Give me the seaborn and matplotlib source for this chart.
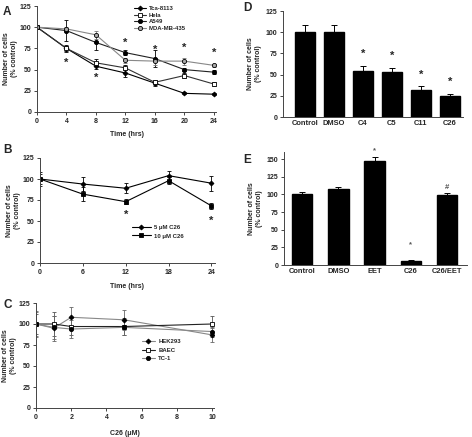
import matplotlib
matplotlib.use("Agg")
import matplotlib.pyplot as plt
import seaborn as sns
import pandas as pd
import numpy as np

# ---- panel A: time course in four cancer lines
time_a = [0, 4, 8, 12, 16, 20, 24]
tca = [100, 75, 54, 46, 34, 22, 21]
tca_err = [0, 3, 3, 5, 3, 1, 1]
hela = [100, 75, 58, 52, 35, 43, 33]
hela_err = [0, 4, 4, 3, 3, 3, 2]
a549 = [100, 96, 82, 70, 63, 50, 47]
a549_err = [0, 12, 9, 3, 10, 2, 2]
mda = [100, 98, 91, 61, 60, 60, 55]
mda_err = [0, 2, 5, 3, 4, 4, 2]
stars_a_x = [4, 8, 12, 16, 20, 24]
stars_a_y = [58, 40, 81, 73, 76, 70]

# ---- panel B: two doses over time
time_b = [0, 6, 12, 18, 24]
c26_5 = [100, 94, 89, 104, 95]
c26_5_err = [8, 8, 6, 5, 9]
c26_10 = [100, 82, 73, 98, 68]
c26_10_err = [6, 8, 3, 4, 4]
stars_b_x = [12, 24]
stars_b_y = [57, 50]

# ---- panel C: normal cells vs dose
dose_c = [0, 1, 2, 5, 10]
hek = [100, 95, 108, 105, 87]
hek_err = [15, 15, 12, 12, 8]
baec = [100, 100, 97, 97, 100]
baec_err = [12, 14, 10, 10, 9]
tc1 = [100, 96, 94, 96, 91]
tc1_err = [14, 14, 11, 9, 6]

# ---- panel D: compounds
cats_d = ["Control", "DMSO", "C4", "C5", "C11", "C26"]
vals_d = [100, 100, 54, 53, 32, 25]
errs_d = [8, 9, 6, 5, 4, 2]
marks_d = ["", "", "*", "*", "*", "*"]

# ---- panel E: EET rescue
cats_e = ["Control", "DMSO", "EET", "C26", "C26/EET"]
vals_e = [100, 108, 147, 6, 99]
errs_e = [4, 2, 6, 1, 3]
marks_e = ["", "", "*", "*", "#"]

sns.set_style("ticks")
plt.rcParams["font.family"] = ["Liberation Sans", "DejaVu Sans"]
plt.rcParams["font.weight"] = "bold"
plt.rcParams["axes.labelweight"] = "bold"
plt.rcParams["axes.linewidth"] = 0.7
plt.rcParams["axes.edgecolor"] = "#444444"
plt.rcParams["xtick.major.size"] = 2
plt.rcParams["ytick.major.size"] = 2
plt.rcParams["xtick.major.width"] = 0.6
plt.rcParams["ytick.major.width"] = 0.6
plt.rcParams["xtick.major.pad"] = 2
plt.rcParams["ytick.major.pad"] = 2

W, H = 472, 437
fig = plt.figure(figsize=(W / 100, H / 100), dpi=100)


def add_ax(x0, x1, y0, y1):
    return fig.add_axes([x0 / W, 1 - y1 / H, (x1 - x0) / W, (y1 - y0) / H])


TICK = 5.0
LAB = 5.0
ylab = "Number of cells\n(% control)"


def style(ax):
    sns.despine(ax=ax)
    ax.tick_params(labelsize=TICK)
    for lbl in ax.get_xticklabels() + ax.get_yticklabels():
        lbl.set_fontweight("bold")


def series(ax, x, y, err, label, marker, lc, mfc, ecol="black", ms=3):
    sns.lineplot(x=x, y=y, ax=ax, color=lc, lw=0.8, marker=marker, markersize=ms,
                 markerfacecolor=mfc, markeredgecolor="black", markeredgewidth=0.6,
                 label=label)
    ax.errorbar(x, y, yerr=err, fmt="none", ecolor=ecol, elinewidth=0.6,
                capsize=1.6, capthick=0.6, zorder=1)


# ---- A
axA = add_ax(37, 216, 6, 112)
series(axA, time_a, tca, tca_err, "Tca-8113", "D", "black", "black", ms=2.5)
series(axA, time_a, hela, hela_err, "Hela", "s", "#333333", "white")
series(axA, time_a, a549, a549_err, "A549", "o", "#222222", "black")
series(axA, time_a, mda, mda_err, "MDA-MB-435", "o", "#888888", "#aaaaaa", ecol="#777777")
for sx, sy in zip(stars_a_x, stars_a_y):
    axA.text(sx, sy, "*", ha="center", va="center", fontsize=8, fontweight="bold")
axA.set_xlim(0, 24.3)
axA.set_ylim(0, 125)
axA.set_xticks(time_a)
axA.set_yticks([0, 25, 50, 75, 100, 125])
axA.set_xlabel("Time (hrs)", fontsize=LAB, labelpad=5)
axA.set_ylabel(ylab, fontsize=LAB, labelpad=1)
axA.legend(loc="upper left", bbox_to_anchor=(0.52, 1.04), frameon=False, fontsize=4.3,
           handlelength=2.0, handletextpad=0.4, labelspacing=0.25, borderpad=0.2)
style(axA)

# ---- B
axB = add_ax(40, 215, 158, 263)
series(axB, time_b, c26_5, c26_5_err, "5 \u03bcM C26", "D", "black", "black", ms=2.5)
series(axB, time_b, c26_10, c26_10_err, "10 \u03bcM C26", "s", "black", "black")
for sx, sy in zip(stars_b_x, stars_b_y):
    axB.text(sx, sy, "*", ha="center", va="center", fontsize=8, fontweight="bold")
axB.set_xlim(0, 24.5)
axB.set_ylim(0, 125)
axB.set_xticks(time_b)
axB.set_yticks([0, 25, 50, 75, 100, 125])
axB.set_xlabel("Time (hrs)", fontsize=LAB, labelpad=5)
axB.set_ylabel(ylab, fontsize=LAB, labelpad=1)
axB.legend(loc="upper left", bbox_to_anchor=(0.5, 0.4), frameon=False, fontsize=4.3,
           handlelength=3.2, handletextpad=0.6, labelspacing=0.5, borderpad=0.2)
style(axB)

# ---- C
axC = add_ax(36, 214, 303, 408)
series(axC, dose_c, hek, hek_err, "HEK293", "D", "#888888", "black", ecol="#666666", ms=2.5)
series(axC, dose_c, baec, baec_err, "BAEC", "s", "#222222", "white", ecol="#555555")
series(axC, dose_c, tc1, tc1_err, "TC-1", "o", "#888888", "black", ecol="#666666")
axC.set_xlim(0, 10.1)
axC.set_ylim(0, 125)
axC.set_xticks([0, 2, 4, 6, 8, 10])
axC.set_yticks([0, 25, 50, 75, 100, 125])
axC.set_xlabel("C26 (\u03bcM)", fontsize=LAB, labelpad=7)
axC.set_ylabel(ylab, fontsize=LAB, labelpad=1)
axC.legend(loc="upper left", bbox_to_anchor=(0.57, 0.7), frameon=False, fontsize=4.3,
           handlelength=2.2, handletextpad=0.6, labelspacing=0.6, borderpad=0.2)
style(axC)

# ---- D
axD = add_ax(283, 463, 11, 117)
dfD = pd.DataFrame({"group": cats_d, "value": vals_d})
sns.barplot(data=dfD, x="group", y="value", color="black", width=0.7, ax=axD,
            saturation=1, edgecolor="black")
xD = np.arange(len(cats_d))
axD.errorbar(xD, vals_d, yerr=[np.zeros(len(errs_d)), errs_d], fmt="none",
             ecolor="black", elinewidth=0.7, capsize=2.5, capthick=0.7)
for x, v, e, m in zip(xD, vals_d, errs_d, marks_d):
    if m:
        axD.text(x, v + e + 14, m, ha="center", va="center", fontsize=8, fontweight="bold")
axD.set_xlim(-0.75, 5.45)
axD.set_ylim(0, 125)
axD.set_yticks([0, 25, 50, 75, 100, 125])
axD.set_xlabel("")
axD.set_ylabel(ylab, fontsize=LAB, labelpad=3)
axD.tick_params(axis="x", length=0)
style(axD)
axD.tick_params(axis="x", labelsize=5.4)

# ---- E
axE = add_ax(284, 467, 152, 265)
dfE = pd.DataFrame({"group": cats_e, "value": vals_e})
sns.barplot(data=dfE, x="group", y="value", color="black", width=0.57, ax=axE,
            saturation=1, edgecolor="black")
xE = np.arange(len(cats_e))
axE.errorbar(xE, vals_e, yerr=[np.zeros(len(errs_e)), errs_e], fmt="none",
             ecolor="black", elinewidth=0.7, capsize=2.5, capthick=0.7)
mark_y_e = [0, 0, 162, 29, 110]
for x, m, my in zip(xE, marks_e, mark_y_e):
    if m:
        axE.text(x, my, m, ha="center", va="center", fontsize=5.5, color="#555555",
                 clip_on=False)
axE.set_xlim(-0.5, 4.55)
axE.set_ylim(0, 160)
axE.set_yticks([0, 25, 50, 75, 100, 125, 150])
axE.set_xlabel("")
axE.set_ylabel(ylab, fontsize=LAB, labelpad=3)
axE.tick_params(axis="x", length=0)
style(axE)
axE.tick_params(axis="x", labelsize=5.4)

# panel letters
for lx, ly, t in [(3, 12, "A"), (3, 150, "B"), (3, 305, "C"), (243, 8, "D"), (243, 160, "E")]:
    fig.text(lx / W, 1 - ly / H, t, fontsize=8.5, fontweight="bold", ha="left", va="center")

fig.savefig("out.png", dpi=100)
